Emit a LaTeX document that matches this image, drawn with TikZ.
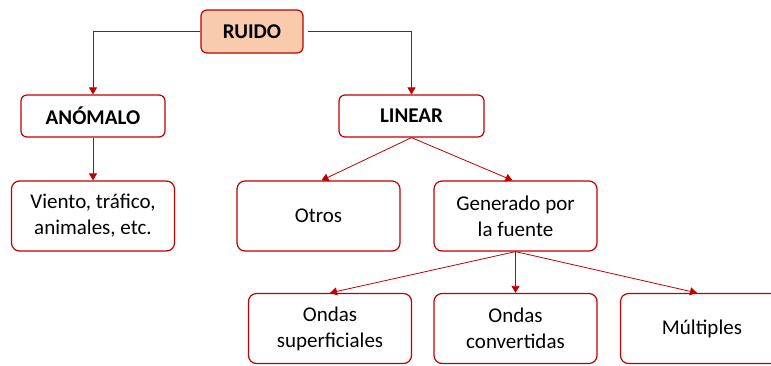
\documentclass[tikz,border=0pt]{standalone}
\usepackage{fontspec}
\setmainfont{Carlito}
\usetikzlibrary{arrows.meta}
\definecolor{rojo}{HTML}{C00000}
\definecolor{salmon}{HTML}{F8CBAD}

\begin{document}
\begin{tikzpicture}[x=1pt, y=-1pt,
            box/.style={draw=rojo, line width=1.2pt, rounded corners=8pt, fill=white, minimum width=163pt, minimum height=70pt, align=center, inner sep=0pt, font=\fontsize{21}{26}\selectfont},
            head/.style={box, rounded corners=6pt, minimum width=144pt, minimum height=42pt, font=\fontsize{21}{26}\selectfont\bfseries},
            arr/.style={-{Triangle[width=8pt,length=7pt]}, draw=rojo, line width=0.8pt}
        ]
            \useasboundingbox (0,0) rectangle (771,365);

            \node[head, fill=salmon, minimum width=102pt, minimum height=43pt] (ruido) at (252,31.5) {RUIDO};
            \node[head] (anomalo) at (93,116) {ANÓMALO};
            \node[head, minimum width=145pt] (linear) at (411.5,116) {LINEAR};
            \node[box] (viento) at (93,216) {Viento, tráfico,\\animales, etc.};
            \node[box] (otros) at (318.5,216) {Otros};
            \node[box] (generado) at (515.5,216) {Generado por\\la fuente};
            \node[box] (superf) at (330,328.5) {Ondas\\superficiales};
            \node[box] (convert) at (515.5,328.5) {Ondas\\convertidas};
            \node[box] (multiples) at (702,328.5) {Múltiples};

            \draw[arr] (ruido.west) -| (anomalo.north);
            \draw[arr, shorten <=4pt] (ruido.east) -| (linear.north);
            \draw[arr] (anomalo.south) -- (viento.north);
            \draw[arr] (linear.south) -- ([xshift=3pt]otros.north);
            \draw[arr] (linear.south) -- ([xshift=-3pt]generado.north);
            \draw[arr] (generado.south) -- (superf.north);
            \draw[arr] (generado.south) -- (convert.north);
            \draw[arr] (generado.south) -- ([xshift=-5pt]multiples.north);
        \end{tikzpicture}
\end{document}
